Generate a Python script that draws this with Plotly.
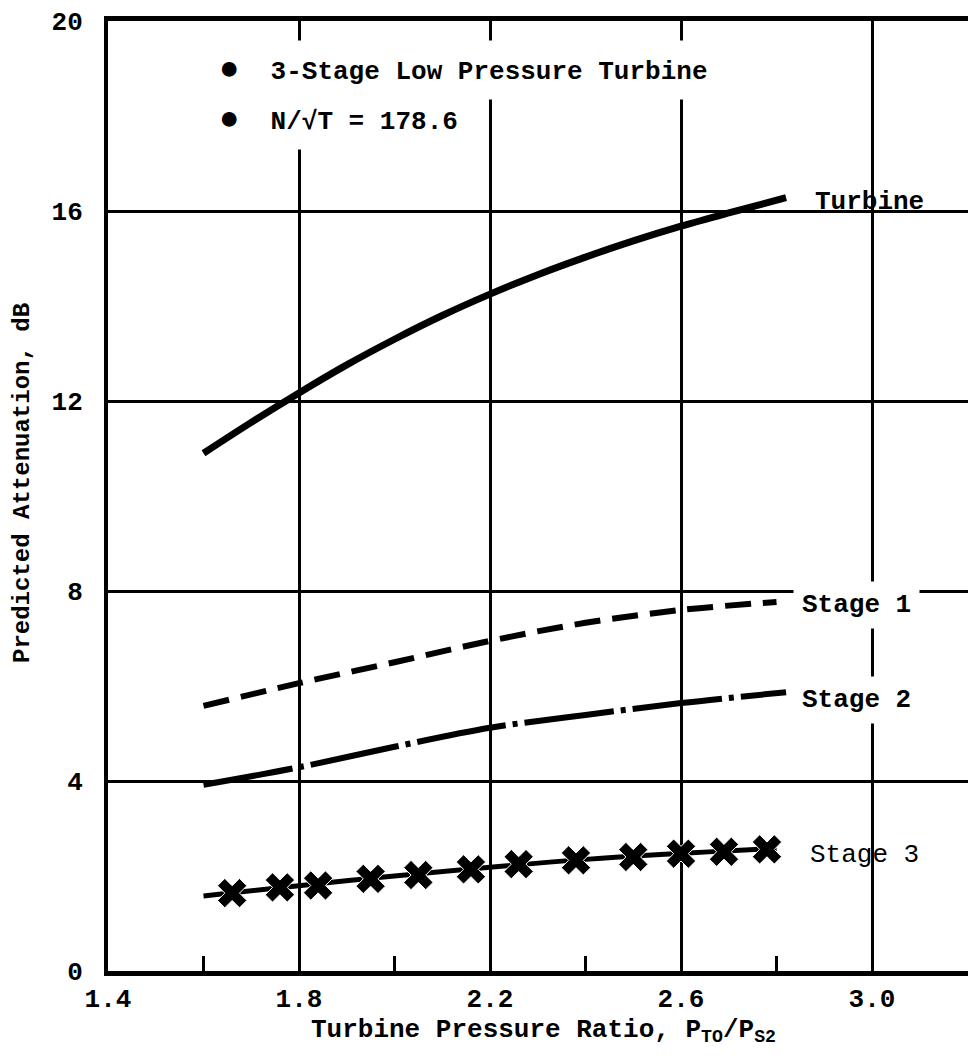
import plotly.graph_objects as go

# ---- data ----
turbine_x = [1.60, 1.70, 1.80, 1.90, 2.00, 2.10, 2.20, 2.30, 2.40, 2.50, 2.60, 2.70, 2.82]
turbine_y = [10.9, 11.55, 12.17, 12.76, 13.30, 13.80, 14.25, 14.66, 15.03, 15.37, 15.68, 15.96, 16.28]

stage1_x = [1.60, 1.80, 2.00, 2.20, 2.40, 2.60, 2.80]
stage1_y = [5.58, 6.06, 6.50, 6.95, 7.33, 7.60, 7.77]

stage2_x = [1.60, 1.80, 2.00, 2.20, 2.40, 2.60, 2.82]
stage2_y = [3.92, 4.29, 4.72, 5.12, 5.39, 5.64, 5.87]

stage3_x = [1.60, 2.00, 2.40, 2.80]
stage3_y = [1.58, 2.00, 2.35, 2.58]

stage3_mx = [1.66, 1.76, 1.84, 1.95, 2.05, 2.16, 2.26, 2.38, 2.50, 2.60, 2.69, 2.78]
stage3_my = [1.64, 1.76, 1.80, 1.94, 2.02, 2.14, 2.25, 2.33, 2.40, 2.47, 2.51, 2.56]

x_ticks = [1.4, 1.8, 2.2, 2.6, 3.0]
x_ticktext = ["1.4", "1.8", "2.2", "2.6", "3.0"]
y_ticks = [0, 4, 8, 12, 16, 20]
y_ticktext = ["0", "4", "8", "12", "16", "20"]

curve_labels = ["Turbine", "Stage 1", "Stage 2", "Stage 3"]
label_x = [2.876, 2.835, 2.835, 2.866]
label_y = [16.19, 7.71, 5.71, 2.44]

header_lines = ["3-Stage Low Pressure Turbine", "N/\u221aT = 178.6"]
header_y = [18.97, 17.92]

FONT = "Liberation Mono"
INK = "#000000"

fig = go.Figure()

fig.add_trace(go.Scatter(x=turbine_x, y=turbine_y, mode="lines",
                         line=dict(color=INK, width=7, shape="spline"),
                         hoverinfo="skip"))
fig.add_trace(go.Scatter(x=stage1_x, y=stage1_y, mode="lines",
                         line=dict(color=INK, width=6, shape="spline", dash="26px,12px"),
                         hoverinfo="skip"))
fig.add_trace(go.Scatter(x=stage2_x, y=stage2_y, mode="lines",
                         line=dict(color=INK, width=6, shape="spline", dash="90px,7px,5px,7px"),
                         hoverinfo="skip"))
fig.add_trace(go.Scatter(x=stage3_x, y=stage3_y, mode="lines",
                         line=dict(color=INK, width=5, shape="spline"),
                         hoverinfo="skip"))
fig.add_trace(go.Scatter(x=stage3_mx, y=stage3_my, mode="markers",
                         marker=dict(symbol="x", size=26, color=INK,
                                     line=dict(color="white", width=1)),
                         hoverinfo="skip"))

annotations = []
for i, (t, xx, yy) in enumerate(zip(curve_labels, label_x, label_y)):
    ann = dict(
        x=xx, y=yy, xref="x", yref="y", text=t, showarrow=False,
        xanchor="left", yanchor="middle",
        font=dict(family=FONT, size=26, color=INK,
                  weight="normal" if i == 3 else "bold"))
    if i in (1, 2):
        ann.update(bgcolor="white", borderpad=8)
    annotations.append(ann)

for t, yy in zip(header_lines, header_y):
    annotations.append(dict(
        x=1.4 + (208 - 108) / 477.5, y=yy, xref="x", yref="y",
        text="<span style='font-size:34px'>\u25cf</span>  " + t, showarrow=False,
        xanchor="left", yanchor="middle",
        font=dict(family=FONT, size=26, color=INK, weight="bold"),
        bgcolor="white", borderpad=10))

# axis titles
annotations.append(dict(
    x=(543 - 108) / 860, y=-(1031 - 971) / 950, xref="paper", yref="paper",
    text="Turbine Pressure Ratio, P<sub>TO</sub>/P<sub>S2</sub>", showarrow=False,
    xanchor="center", yanchor="middle",
    font=dict(family=FONT, size=26, color=INK, weight="bold")))
annotations.append(dict(
    x=(22 - 108) / 860, y=(971 - 483) / 950, xref="paper", yref="paper",
    text="Predicted Attenuation, dB", showarrow=False, textangle=-90,
    xanchor="center", yanchor="middle",
    font=dict(family=FONT, size=24, color=INK, weight="bold")))

fig.update_layout(
    width=968, height=1060,
    margin=dict(l=108, r=0, t=21, b=89),
    paper_bgcolor="white", plot_bgcolor="white",
    showlegend=False,
    annotations=annotations,
    xaxis=dict(
        range=[1.4, 3.201], tickvals=x_ticks, ticktext=x_ticktext,
        showgrid=True, gridcolor=INK, gridwidth=2.5, zeroline=False,
        showline=True, linecolor=INK, linewidth=5, mirror=True,
        ticks="", ticklabelstandoff=0,
        tickfont=dict(family=FONT, size=26, color=INK, weight="bold"),
        minor=dict(tickvals=[1.6, 2.0, 2.4, 2.8], ticks="inside", ticklen=15,
                   tickwidth=2.5, tickcolor=INK, showgrid=False),
        fixedrange=True),
    yaxis=dict(
        range=[0, 20], tickvals=y_ticks, ticktext=y_ticktext,
        showgrid=True, gridcolor=INK, gridwidth=2.5, zeroline=False,
        showline=True, linecolor=INK, linewidth=4, mirror=False,
        ticks="", ticklabelstandoff=16,
        tickfont=dict(family=FONT, size=26, color=INK, weight="bold"),
        fixedrange=True),
)

fig.write_html("out.html")
